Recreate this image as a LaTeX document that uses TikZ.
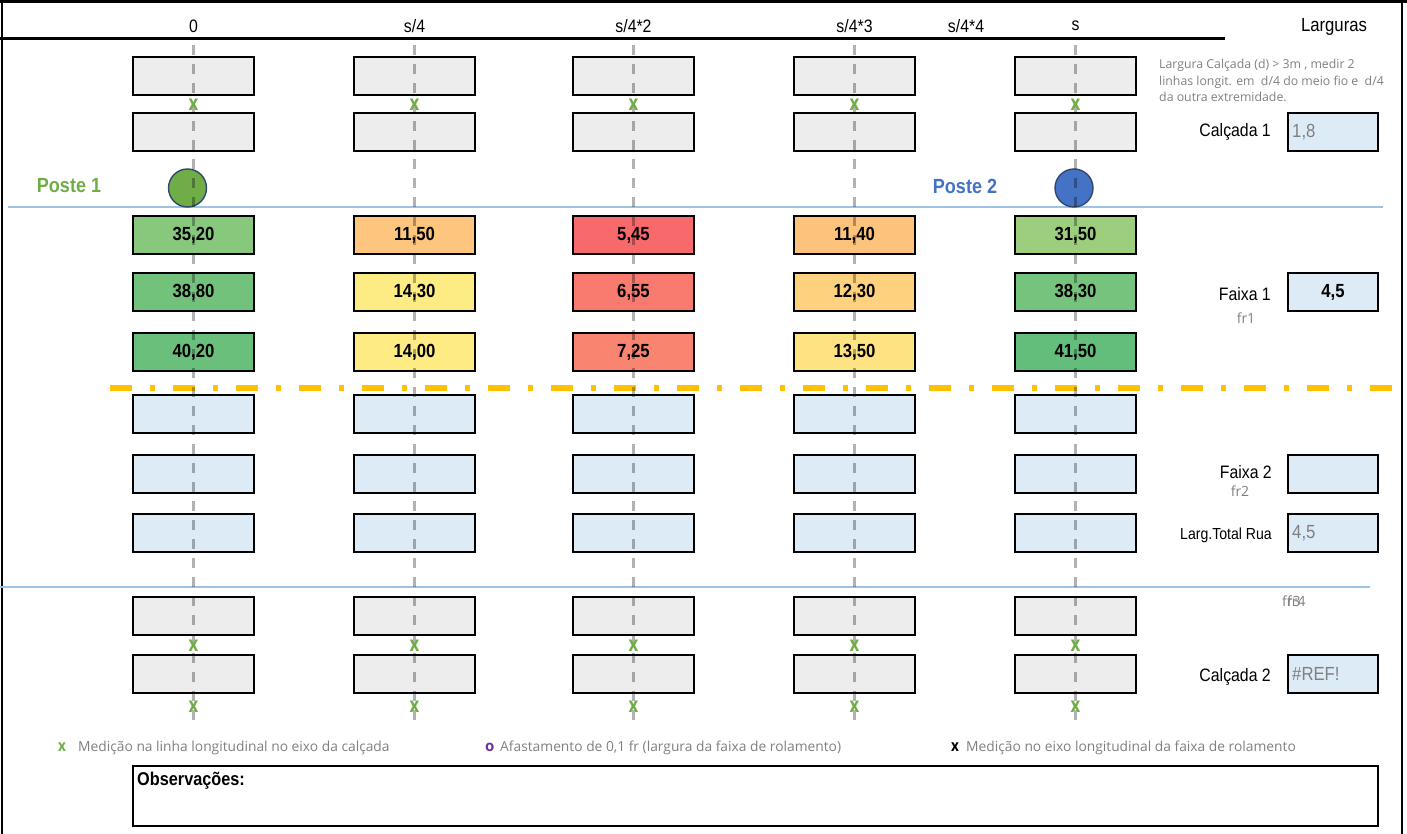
\documentclass[tikz,border=0pt]{standalone}
\usepackage{fontspec}
\setmainfont{Liberation Sans}
\newfontfamily\osans{Open Sans}
\definecolor{cellgrey}{RGB}{237,237,237}
\definecolor{cellblue}{RGB}{221,235,247}
\definecolor{pgreen}{RGB}{112,173,71}
\definecolor{pblue}{RGB}{68,114,196}
\definecolor{lineblue}{RGB}{157,195,230}
\definecolor{dashgold}{RGB}{255,192,0}
\definecolor{txtgrey}{RGB}{128,128,128}
\definecolor{legpurple}{RGB}{112,48,160}
\definecolor{circedge}{RGB}{47,72,110}
\newcommand\nx[1]{\scalebox{0.88}[1]{#1}}
\newcommand\fs[1]{\fontsize{#1}{#1}\selectfont}
\begin{document}
\begin{tikzpicture}[x=1pt,y=-1pt,
  cellbox/.style={draw=black, line width=1.2pt, minimum width=121pt, minimum height=38pt, inner sep=0pt},
  greycell/.style={cellbox, fill=cellgrey},
  bluecell/.style={cellbox, fill=cellblue},
  valcell/.style={cellbox, font=\bfseries\fs{19}},
  widthbox/.style={draw=black, line width=2.2pt, fill=cellblue, minimum width=90pt, minimum height=38pt, inner sep=0pt},
  head/.style={font=\fs{18}, inner sep=0pt},
  rlabel/.style={font=\fs{18}, inner sep=0pt, anchor=east},
  frlabel/.style={font=\osans\fs{14}, text=txtgrey, inner sep=0pt},
  xmark/.style={font=\osans\bfseries\fs{21}, text=pgreen, inner sep=0pt},
  legtext/.style={font=\osans\fs{13.8}, text=txtgrey, inner sep=0pt, anchor=west},
  vline/.style={draw=black, opacity=0.3, line width=2.5pt, dash pattern=on 10pt off 9pt},
  bluerule/.style={draw=lineblue, line width=1.4pt},
  poste/.style={circle, draw=circedge, line width=1.4pt, minimum size=38pt, inner sep=0pt}
]
\useasboundingbox (0,0) rectangle (1407,834);

% frame
\draw[line width=2.5pt] (0,1.5) -- (1407,1.5);
\draw[line width=2.5pt] (2,0) -- (2,834);
\draw[line width=2.5pt] (1402,0) -- (1402,834);
\draw[line width=2.5pt] (0,38.5) -- (1225,38.5);

% header
\node[head] (h0) at (193.5,26) {\nx{0}};
\node[head] (h1) at (414.5,26) {\nx{s/4}};
\node[head] (h2) at (633.5,26) {\nx{s/4*2}};
\node[head] (h3) at (854.5,26) {\nx{s/4*3}};
\node[head] (h4) at (966,26) {\nx{s/4*4}};
\node[head] (h5) at (1075.5,26) {\nx{s}};
\node[font=\fs{19}, inner sep=0pt] (larg) at (1334,27) {\nx{Larguras}};
\node[font=\osans\fontsize{12.3}{16.5}\selectfont, text=txtgrey, inner sep=0pt, anchor=north west, align=left] (note) at (1159,59)
  {Largura Calçada (d) > 3m , medir 2\\linhas longit. em \ d/4 do meio fio e \ d/4\\da outra extremidade.};

% blue rules and centre line
\coordinate (b1s) at (8,207); \coordinate (b1e) at (1383,207);
\coordinate (b2s) at (0,587); \coordinate (b2e) at (1370,587);
\draw[bluerule] (b1s) -- (b1e);
\draw[bluerule] (b2s) -- (b2e);
\coordinate (o1s) at (110,388); \coordinate (o1e) at (1392,388);
\draw[draw=dashgold, line width=6pt, dash pattern=on 22pt off 18pt on 5pt off 18pt] (o1s) -- (o1e);

% grid cells
\foreach \c/\x in {0/193.5,1/414.5,2/633.5,3/854.5,4/1075.5}{
  \node[greycell] (g1-\c) at (\x,76) {};
  \node[greycell] (g2-\c) at (\x,132) {};
  \node[bluecell] (u1-\c) at (\x,414) {};
  \node[bluecell] (u2-\c) at (\x,474) {};
  \node[bluecell] (u3-\c) at (\x,533) {};
  \node[greycell] (g3-\c) at (\x,616) {};
  \node[greycell] (g4-\c) at (\x,674) {};
}
\foreach \c/\x/\y/\v/\R/\G/\B in {
  0/193.5/235/35{,}20/135/200/125, 0/193.5/292/38{,}80/114/194/124, 0/193.5/352/40{,}20/106/192/123,
  1/414.5/235/11{,}50/253/197/125, 1/414.5/292/14{,}30/253/235/132, 1/414.5/352/14{,}00/255/235/132,
  2/633.5/235/5{,}45/248/105/107, 2/633.5/292/6{,}55/249/122/110, 2/633.5/352/7{,}25/249/132/112,
  3/854.5/235/11{,}40/253/195/124, 3/854.5/292/12{,}30/254/209/127, 3/854.5/352/13{,}50/255/227/130,
  4/1075.5/235/31{,}50/156/206/126, 4/1075.5/292/38{,}30/117/195/124, 4/1075.5/352/41{,}50/99/190/123}{
  \definecolor{tmpc}{RGB}{\R,\G,\B}
  \node[valcell, fill=tmpc] (v\c-\y) at (\x,\y) {\nx{\v}};
}

% postes
\node[font=\bfseries\fs{20.5}, text=pgreen, inner sep=0pt] (p1l) at (69,186) {\nx{Poste 1}};
\node[poste, fill=pgreen] (p1) at (187.5,188) {};
\node[font=\bfseries\fs{20.5}, text=pblue, inner sep=0pt] (p2l) at (965,186) {\nx{Poste 2}};
\node[poste, fill=pblue] (p2) at (1074,188) {};

% vertical dashed lines
\foreach \c/\x in {0/193.5,1/414.5,2/633.5,3/854.5,4/1075.5}{
  \coordinate (vt\c) at (\x,45);
  \coordinate (vb\c) at (\x,720);
  \draw[vline] (vt\c) -- (vb\c);
}

% x marks
\foreach \c/\x in {0/193.5,1/414.5,2/633.5,3/854.5,4/1075.5}{
  \node[xmark] (xa\c) at (\x,105) {\scalebox{0.8}[1]{x}};
  \node[xmark] (xb\c) at (\x,646) {\scalebox{0.8}[1]{x}};
  \node[xmark] (xc\c) at (\x,707) {\scalebox{0.8}[1]{x}};
}

% right column
\node[rlabel] (lc1) at (1271,132) {\nx{Calçada 1}};
\node[widthbox] (w1) at (1333,132) {};
\node[font=\fs{19}, text=txtgrey, inner sep=0pt, anchor=west] (w1t) at (1292,132) {\nx{1,8}};
\node[rlabel] (lf1) at (1271,294) {\nx{Faixa 1}};
\node[frlabel] (fr1) at (1246,318) {fr1};
\node[widthbox] (w2) at (1333,292) {\bfseries\fs{19}\nx{4,5}};
\node[rlabel] (lf2) at (1272,472) {\nx{Faixa 2}};
\node[frlabel] (fr2) at (1240,491) {fr2};
\node[widthbox] (w3) at (1333,474) {};
\node[rlabel, font=\fs{16}] (ltr) at (1272,535) {\nx{Larg.Total Rua}};
\node[widthbox] (w4) at (1333,533) {};
\node[font=\fs{19}, text=txtgrey, inner sep=0pt, anchor=west] (w4t) at (1292,533) {\nx{4,5}};
\node[frlabel, anchor=west] (fr3) at (1282,601) {fr3};
\node[frlabel, anchor=west] (fr4) at (1287,601) {fr4};
\node[rlabel] (lc2) at (1271,677) {\nx{Calçada 2}};
\node[widthbox] (w5) at (1333,674) {};
\node[font=\fs{19}, text=txtgrey, inner sep=0pt, anchor=west] (w5t) at (1292,674) {\nx{\#REF!}};

% legend
\node[xmark, font=\osans\bfseries\fs{16}, anchor=west] (lg1x) at (58,747) {\scalebox{0.85}[1]{x}};
\node[legtext] (lg1) at (78,748) {Medição na linha longitudinal no eixo da calçada};
\node[font=\osans\bfseries\fs{15}, text=legpurple, inner sep=0pt, anchor=west] (lg2o) at (485,747) {o};
\node[legtext] (lg2) at (500,748) {Afastamento de 0,1 fr (largura da faixa de rolamento)};
\node[font=\osans\bfseries\fs{16}, inner sep=0pt, anchor=west] (lg3x) at (951,747) {\scalebox{0.85}[1]{x}};
\node[legtext] (lg3) at (966,748) {Medição no eixo longitudinal da faixa de rolamento};

% observations
\node[draw=black, line width=1.2pt, minimum width=1245pt, minimum height=60pt, inner sep=0pt] (obs) at (755.5,796) {};
\node[font=\bfseries\fs{18.5}, inner sep=0pt, anchor=west] (obst) at (137,781) {\nx{Observações:}};
\end{tikzpicture}
\end{document}
